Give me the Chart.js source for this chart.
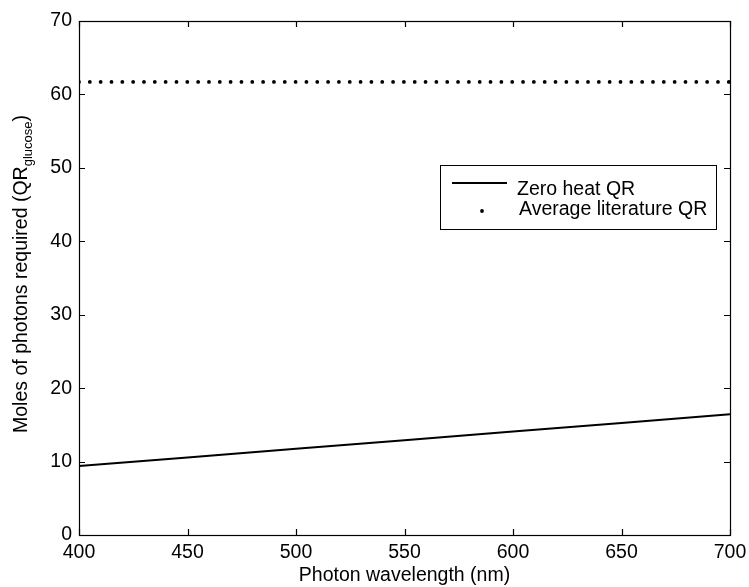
<!DOCTYPE html>
<html>
<head>
<meta charset="utf-8">
<script src="https://cdn.jsdelivr.net/npm/chart.js@4/dist/chart.umd.min.js"></script>
<style>
  html, body { margin: 0; padding: 0; background: #fff; }
  #wrap { width: 749px; height: 587px; }
</style>
</head>
<body>
<div id="wrap"><canvas id="qrChart" width="749" height="587"></canvas></div>
<script>
// data
const wavelengths = [400, 450, 500, 550, 600, 650, 700];
const zeroHeatQR = [9.4, 10.55, 11.75, 12.9, 14.1, 15.25, 16.45];
const literatureQR = [61.7, 61.7];
const literatureX = [400, 700];
const xTicks = [400, 450, 500, 550, 600, 650, 700];
const yTicks = [0, 10, 20, 30, 40, 50, 60, 70];
const seriesNames = ["Zero heat QR", "Average literature QR"];

const FONT = "'Liberation Sans', Arial, sans-serif";
const FS = 19.5;

// box, inward ticks, legend and subscripted y title
const framePlugin = {
  id: "frame",
  afterDraw(chart) {
    const { ctx, chartArea: a, scales } = chart;
    const x = scales.x, y = scales.y;
    ctx.save();
    ctx.strokeStyle = "#000";
    ctx.lineWidth = 1.2;
    ctx.strokeRect(a.left + 0.5, a.top + 0.5, a.right - a.left, a.bottom - a.top);

    ctx.beginPath();
    xTicks.forEach(v => {
      const px = Math.round(x.getPixelForValue(v)) + 0.5;
      ctx.moveTo(px, a.bottom); ctx.lineTo(px, a.bottom - 6);
      ctx.moveTo(px, a.top); ctx.lineTo(px, a.top + 6);
    });
    yTicks.forEach(v => {
      const py = Math.round(y.getPixelForValue(v)) + 0.5;
      ctx.moveTo(a.left, py); ctx.lineTo(a.left + 6, py);
      ctx.moveTo(a.right, py); ctx.lineTo(a.right - 6, py);
    });
    ctx.stroke();

    // legend
    const lx = 440, ly = 165, lw = 276, lh = 64;
    ctx.fillStyle = "#fff";
    ctx.fillRect(lx, ly, lw, lh);
    ctx.lineWidth = 1;
    ctx.strokeRect(lx + 0.5, ly + 0.5, lw, lh);
    ctx.lineWidth = 2;
    ctx.beginPath();
    ctx.moveTo(452, 183); ctx.lineTo(507, 183);
    ctx.stroke();
    ctx.fillStyle = "#000";
    ctx.beginPath();
    ctx.arc(482, 211, 1.9, 0, Math.PI * 2);
    ctx.fill();
    ctx.font = FS + "px " + FONT;
    ctx.textBaseline = "alphabetic";
    ctx.textAlign = "left";
    ctx.fillText(seriesNames[0], 517, 195);
    ctx.fillText(seriesNames[1], 519, 215);

    // y axis title with subscript
    const main = "Moles of photons required (QR";
    const sub = "glucose";
    const close = ")";
    ctx.font = FS + "px " + FONT;
    const w1 = ctx.measureText(main).width;
    const w3 = ctx.measureText(close).width;
    ctx.font = "13px " + FONT;
    const w2 = ctx.measureText(sub).width;
    const total = w1 + w2 + w3;
    ctx.translate(27, (a.top + a.bottom) / 2 - 4);
    ctx.rotate(-Math.PI / 2);
    let cx = -total / 2;
    ctx.font = FS + "px " + FONT;
    ctx.fillText(main, cx, 0);
    cx += w1;
    ctx.font = "13px " + FONT;
    ctx.fillText(sub, cx, 5);
    cx += w2;
    ctx.font = FS + "px " + FONT;
    ctx.fillText(close, cx, 0);
    ctx.restore();
  }
};

new Chart(document.getElementById("qrChart"), {
  type: "line",
  data: {
    datasets: [
      {
        label: seriesNames[0],
        data: wavelengths.map((w, i) => ({ x: w, y: zeroHeatQR[i] })),
        borderColor: "#000",
        borderWidth: 2,
        pointRadius: 0,
        tension: 0
      },
      {
        label: seriesNames[1],
        data: literatureX.map((w, i) => ({ x: w, y: literatureQR[i] })),
        borderColor: "#000",
        borderWidth: 3.8,
        borderDash: [0, 10.83],
        borderCapStyle: "round",
        pointRadius: 0
      }
    ]
  },
  options: {
    responsive: false,
    animation: false,
    layout: { autoPadding: false, padding: { top: 21, right: 19, left: 0, bottom: 0 } },
    plugins: {
      legend: { display: false },
      tooltip: { enabled: false }
    },
    scales: {
      x: {
        type: "linear",
        min: 400,
        max: 700,
        afterBuildTicks: s => { s.ticks = xTicks.map(v => ({ value: v })); },
        afterFit: s => { s.height = 52; s.paddingLeft = 0; s.paddingRight = 0; },
        grid: { display: false, drawTicks: false },
        border: { display: false },
        ticks: { color: "#000", font: { family: FONT, size: FS }, padding: 6, maxRotation: 0 },
        title: { display: true, text: "Photon wavelength (nm)", color: "#000", font: { family: FONT, size: FS }, padding: { top: 0, bottom: 0 } }
      },
      y: {
        type: "linear",
        min: 0,
        max: 70,
        afterBuildTicks: s => { s.ticks = yTicks.map(v => ({ value: v })); },
        afterFit: s => { s.width = 79; s.paddingTop = 0; s.paddingBottom = 0; },
        grid: { display: false, drawTicks: false },
        border: { display: false },
        ticks: { color: "#000", font: { family: FONT, size: FS }, padding: 7 }
      }
    }
  },
  plugins: [framePlugin]
});
</script>
</body>
</html>
